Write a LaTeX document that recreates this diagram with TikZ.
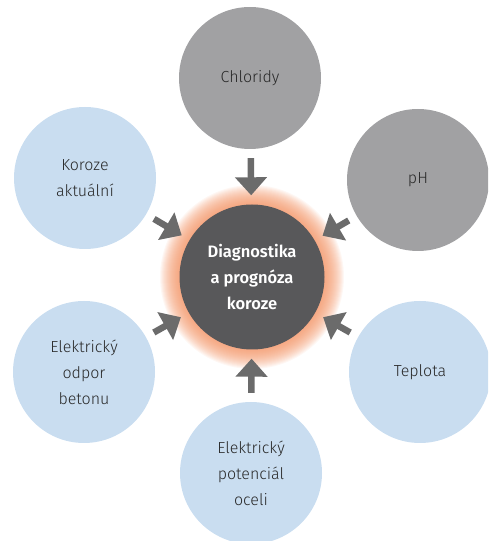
\documentclass[tikz,border=0pt]{standalone}
\usepackage{fontspec}
\setmainfont{Fira Sans}[UprightFont=* Light, BoldFont=* SemiBold]
\usetikzlibrary{arrows.meta}

\definecolor{paleblue}{RGB}{201,221,240}
\definecolor{midgray}{RGB}{161,161,163}
\definecolor{coregray}{RGB}{88,88,90}
\definecolor{arrowgray}{RGB}{107,107,107}
\definecolor{glowcol}{RGB}{242,140,90}
\definecolor{textgray}{RGB}{40,40,40}

\tikzset{
  bubble/.style={circle, minimum size=142pt, inner sep=0pt, align=center,
    text=textgray, font=\fontsize{16}{26}\selectfont},
  factor/.style={bubble, fill=paleblue},
  measure/.style={bubble, fill=midgray},
  core/.style={bubble, minimum size=145pt, fill=coregray, text=white,
    font=\fontsize{16.5}{26}\selectfont\bfseries},
  push/.style={draw=arrowgray, line width=6.5pt,
    -{Triangle[width=31pt,length=18pt]}, shorten <=9pt, shorten >=9pt}
}

\begin{document}
\begin{tikzpicture}[x=1pt, y=1pt]

\useasboundingbox (0,0) rectangle (488,541);
\clip (0,0) rectangle (488,541);

% glow round the centre
\coordinate (mid) at (252,264);
\foreach \r in {0,...,19} {\fill[glowcol, opacity=0.065] (mid) circle ({73+\r});}

\node[core] (diag) at (mid) {Diagnostika\\a prognóza\\koroze};

% outer circles
\node[measure] (chl) at (250,463) {Chloridy};
\node[measure] (ph) at (418,361) {pH};
\node[factor] (tep) at (420,169) {Teplota};
\node[factor] (pot) at (251,68) {Elektrický\\potenciál\\oceli};
\node[factor] (odp) at (84,169) {Elektrický\\odpor\\betonu};
\node[factor] (kor) at (85,363) {Koroze\\aktuální};

% arrows
\foreach \n in {chl,ph,tep,pot,odp,kor} {\draw[push] (\n) -- (diag);}

\end{tikzpicture}
\end{document}
